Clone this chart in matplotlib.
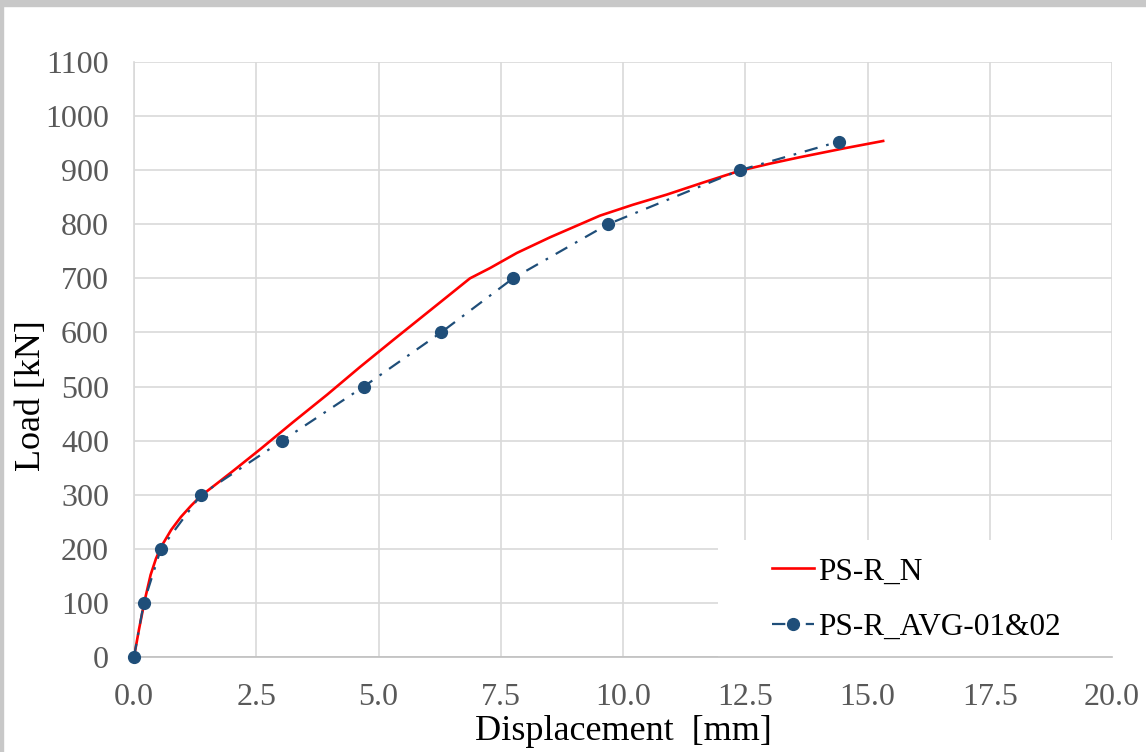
import matplotlib
matplotlib.use("Agg")
import matplotlib.pyplot as plt
from matplotlib.patches import Rectangle

# PS-R_N (numerical) curve
num_disp = [0.0, 0.10, 0.22, 0.34, 0.45, 0.55, 0.76, 0.96, 1.17, 1.37, 1.70, 2.04,
            2.58, 3.25, 3.95, 4.62, 5.30, 6.32, 6.87, 7.28, 7.83, 8.51, 9.53,
            10.2, 10.9, 11.6, 12.39, 13.0, 13.62, 14.5, 15.32]
num_load = [0, 50, 105, 152, 182, 203, 235, 259, 280, 298, 321, 345,
            384, 434, 485, 536, 586, 660, 700, 719, 747, 776, 816,
            836, 855, 876, 899, 912, 924, 940, 954]

# PS-R_AVG-01&02 (test average) points
avg_disp = [0.0, 0.2, 0.55, 1.37, 3.03, 4.70, 6.28, 7.75, 9.69, 12.39, 14.42]
avg_load = [0, 100, 200, 300, 400, 500, 600, 700, 800, 900, 953]

xticks = [0.0, 2.5, 5.0, 7.5, 10.0, 12.5, 15.0, 17.5, 20.0]
yticks = list(range(0, 1101, 100))

plt.rcParams["font.family"] = ["Liberation Serif", "DejaVu Serif"]

W, H = 1146, 752
fig = plt.figure(figsize=(W / 100, H / 100), dpi=100)
# grey frame at top/left edge
fig.patches.append(Rectangle((0, 1 - 6 / H), 1, 6 / H, transform=fig.transFigure,
                             color="#c8c8c8", zorder=0))
fig.patches.append(Rectangle((0, 0), 3 / W, 1, transform=fig.transFigure,
                             color="#c8c8c8", zorder=0))

ax = fig.add_axes([134 / W, 95 / H, (1112 - 134) / W, (657 - 62) / H])

ax.plot(num_disp, num_load, color="#ff0000", lw=1.9, label="PS-R_N", zorder=3)
ax.plot(avg_disp, avg_load, color="#1f4e79", lw=1.6, dashes=(6, 4, 1.2, 4),
        marker="o", ms=8.5, label="PS-R_AVG-01&02", zorder=4, clip_on=False)

ax.set_xlim(0, 20)
ax.set_ylim(0, 1100)
ax.set_xticks(xticks, [f"{v:.1f}" for v in xticks])
ax.set_yticks(yticks)
ax.tick_params(length=0, labelsize=23, labelcolor="#595959")
ax.tick_params(axis="x", pad=19)
ax.tick_params(axis="y", pad=18)
ax.grid(True, color="#d9d9d9", lw=1.2)
ax.set_axisbelow(True)
for s in ("top", "right"):
    ax.spines[s].set_visible(False)
ax.spines["left"].set_color("#d9d9d9")
ax.spines["bottom"].set_color("#bfbfbf")
for s in ("left", "bottom"):
    ax.spines[s].set_linewidth(1.2)

ax.set_xlabel("Displacement  [mm]", fontsize=26, color="black", labelpad=2)
ax.set_ylabel("Load [kN]", fontsize=26, color="black")
ax.yaxis.set_label_coords(-0.088, 0.439)

# white legend area hiding the grid
ax.add_patch(Rectangle((0.597, 0.0), 0.403, 0.197, transform=ax.transAxes,
                       facecolor="white", edgecolor="none", zorder=1))
ax.legend(loc="center left", bbox_to_anchor=(0.652, 0.0965), fontsize=22.5,
          frameon=False, handlelength=1.35, handletextpad=0.15,
          labelspacing=0.85, borderpad=0, borderaxespad=0)

fig.savefig("out.png", dpi=100)
